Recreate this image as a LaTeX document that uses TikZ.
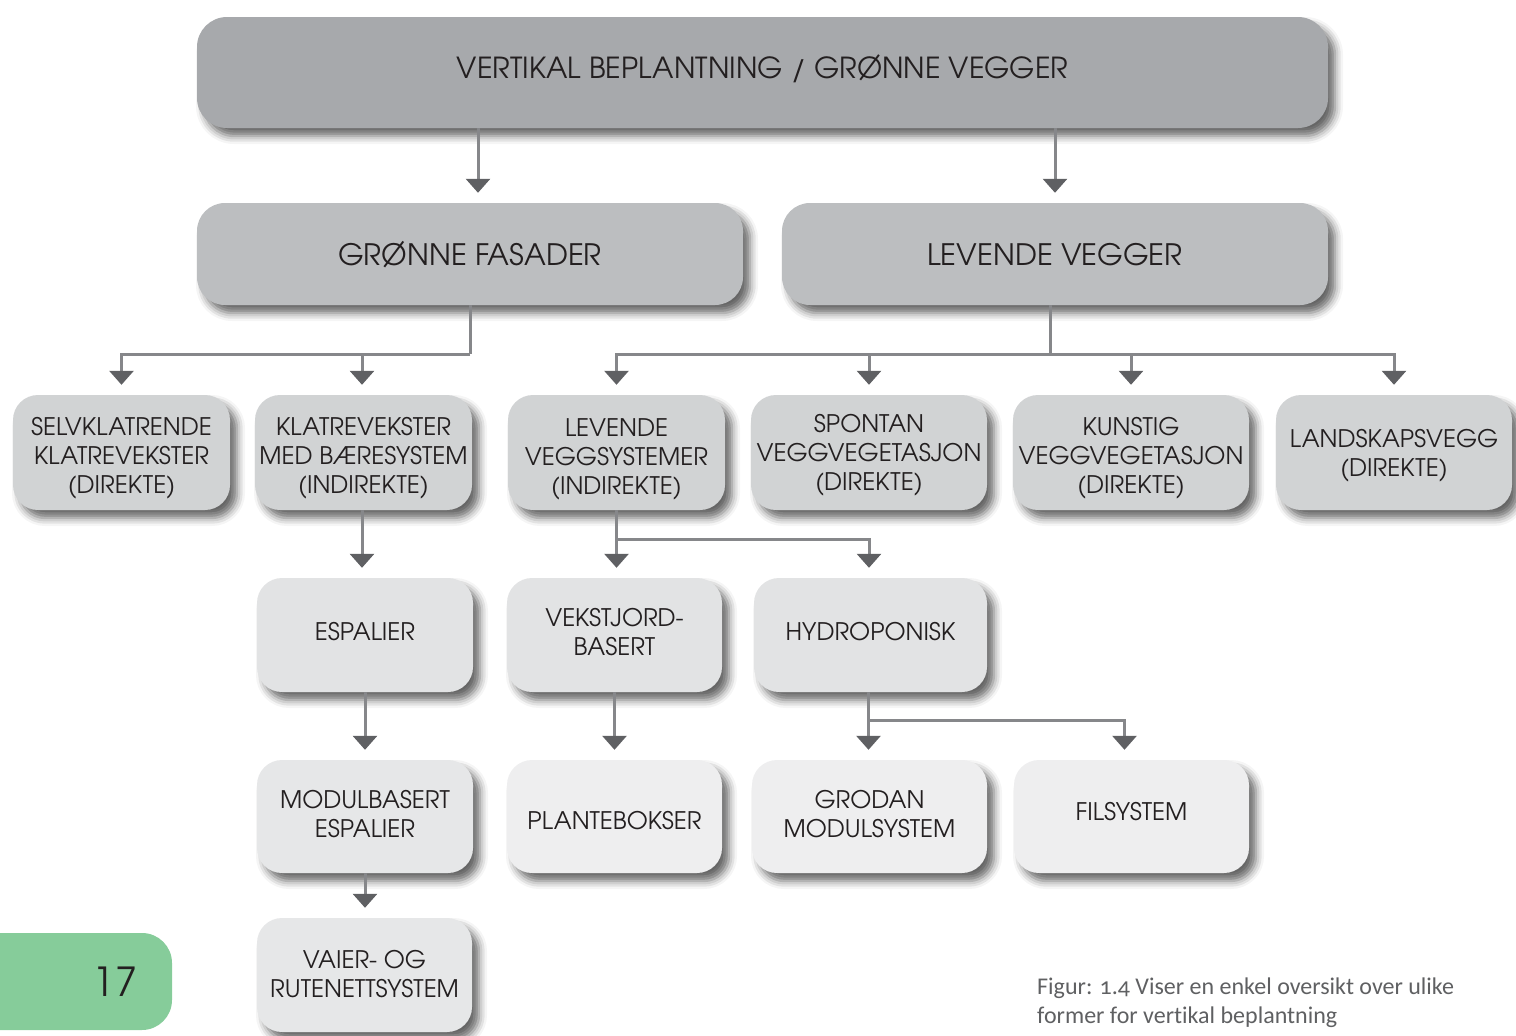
\documentclass[tikz,border=0pt]{standalone}
\usepackage{fontspec}
\setmainfont{texgyreadventor-regular.otf}
\newfontfamily\capfont[Numbers=OldStyle,Ligatures=NoCommon]{Carlito}
\usetikzlibrary{arrows.meta,shadows.blur,calc}
\definecolor{cTop}{HTML}{A7A9AC}
\definecolor{cL2}{HTML}{BCBEC0}
\definecolor{cL3}{HTML}{D1D3D4}
\definecolor{cL4}{HTML}{E2E3E4}
\definecolor{cL5}{HTML}{EEEEEF}
\definecolor{cL6}{HTML}{E6E7E8}
\definecolor{txt}{HTML}{231F20}
\definecolor{lc}{HTML}{86878A}
\definecolor{tipc}{HTML}{5F6063}
\definecolor{pgreen}{HTML}{86CC9A}
\definecolor{capc}{HTML}{5F6062}
\tikzset{
  box/.style={rounded corners=25pt, text=txt, align=center, inner sep=0pt,
    font=\fontsize{24.2}{29}\selectfont,
    blur shadow={shadow xshift=7pt, shadow yshift=-8pt, shadow blur radius=8pt, shadow opacity=60}},
  bsize/.style 2 args={minimum width=#1pt, minimum height=#2pt},
  tpos/.style 2 args={text height=#1pt, text depth=#2pt},
  line/.style={draw=lc, line width=3pt},
  conn/.style={line, -{Triangle[width=24pt,length=14pt,color=tipc]}, shorten >=10pt}
}
\begin{document}
\begin{tikzpicture}[x=1pt,y=-1pt]
\useasboundingbox (0,0) rectangle (1516,1036);
% level 1
\node[box, fill=cTop, bsize={1131}{111}, rounded corners=30pt, font=\fontsize{29}{30}\selectfont, tpos={22}{9.5}] (top) at (762.5,72.5) {VERTIKAL BEPLANTNING / GR\O NNE VEGGER};
% level 2
\node[box, fill=cL2, bsize={546}{102}, rounded corners=28pt, font=\fontsize{29.5}{30}\selectfont, tpos={22}{0}] (gf) at (470,254) {GRØNNE FASADER};
\node[box, fill=cL2, bsize={546}{102}, rounded corners=28pt, font=\fontsize{29.5}{30}\selectfont, tpos={22}{0}] (lv) at (1055,254) {LEVENDE VEGGER};
% level 3
\node[box, fill=cL3, bsize={217}{115}, tpos={82}{0}] (sk) at (121.5,452.5) {SELVKLATRENDE\\KLATREVEKSTER\\(DIREKTE)};
\node[box, fill=cL3, bsize={217}{115}, tpos={82}{0}] (kb) at (363.5,452.5) {KLATREVEKSTER\\MED BÆRESYSTEM\\(INDIREKTE)};
\node[box, fill=cL3, bsize={217}{115}, tpos={83}{0}] (lvs) at (616.5,452.5) {LEVENDE\\VEGGSYSTEMER\\(INDIREKTE)};
\node[box, fill=cL3, bsize={236}{115}, tpos={76}{0}] (sp) at (869,452.5) {SPONTAN\\VEGGVEGETASJON\\(DIREKTE)};
\node[box, fill=cL3, bsize={236}{115}, tpos={81}{0}] (ku) at (1131,452.5) {KUNSTIG\\VEGGVEGETASJON\\(DIREKTE)};
\node[box, fill=cL3, bsize={236}{115}, tpos={47}{0}] (la) at (1394,452.5) {LANDSKAPSVEGG\\(DIREKTE)};
% level 4
\node[box, fill=cL4, bsize={216}{114}, tpos={20}{10}] (es) at (365,635) {ESPALIER};
\node[box, fill=cL4, bsize={215}{114}, tpos={40}{0}] (vj) at (614.5,635) {VEKSTJORD-\\BASERT};
\node[box, fill=cL4, bsize={233}{114}, tpos={20}{10}] (hy) at (870.5,635) {HYDROPONISK};
% level 5
\node[box, fill=cL6, bsize={216}{113}, tpos={41}{0}] (mo) at (365,816.5) {MODULBASERT\\ESPALIER};
\node[box, fill=cL5, bsize={215}{113}, tpos={30}{5}] (pl) at (614.5,816.5) {PLANTEBOKSER};
\node[box, fill=cL5, bsize={235}{113}, tpos={41}{0}] (gr) at (869.5,816.5) {GRODAN\\MODULSYSTEM};
\node[box, fill=cL5, bsize={235}{113}, tpos={20}{12}] (fi) at (1131.5,816.5) {FILSYSTEM};
% level 6
\node[box, fill=cL6, bsize={215}{114}, tpos={44}{0}] (va) at (364.5,975) {VAIER- OG\\RUTENETTSYSTEM};
% junction coordinates
\coordinate (j1) at (470,354);
\coordinate (j2) at (1050,354);
\coordinate (j3) at (616.5,539);
\coordinate (j4) at (870.5,720);
% connectors
\draw[conn] ([xshift=8pt]top.south -| gf.north) -- ([xshift=8pt]gf.north);
\draw[conn] (top.south -| lv.north) -- (lv.north);
\draw[line] (gf.south) -- (j1);
\draw[conn] (j1) -| (sk.north);
\draw[conn] (j1) -| ([xshift=-1.5pt]kb.north);
\draw[line] ([xshift=-5pt]lv.south) -- (j2);
\draw[conn] (j2) -| (lvs.north);
\draw[conn] (j2) -| (sp.north);
\draw[conn] (j2) -| (ku.north);
\draw[conn] (j2) -| (la.north);
\draw[conn] ([xshift=-1.5pt]kb.south) -- ([xshift=-1.5pt]kb.south |- es.north);
\draw[conn] (lvs.south) -- (lvs.south |- vj.north);
\draw[conn] (j3) -| ([xshift=-1.5pt]hy.north);
\draw[conn] (es.south) -- (es.south |- mo.north);
\draw[conn] (vj.south) -- (vj.south |- pl.north);
\draw[conn] ([xshift=-2pt]hy.south) -- ([xshift=-2pt]hy.south |- gr.north);
\draw[conn] ([xshift=-2pt]j4) -| ([xshift=-7pt]fi.north);
\draw[conn] (mo.south) -- (mo.south |- va.north);
% page number
\node[fill=pgreen, rounded corners=30pt, minimum width=232pt, minimum height=97pt, inner sep=0pt] (pg) at (56,981.5) {};
\node[font=\fontsize{40}{40}\selectfont, text=txt] (pgn) at (115,982) {17};
% caption
\node[anchor=north west, align=left, inner sep=0pt, text=capc, font=\capfont\fontsize{24}{29}\selectfont] (cap) at (1037,978) {Figur: 1.4 Viser en enkel oversikt over ulike\\former for vertikal beplantning};
\end{tikzpicture}
\end{document}
